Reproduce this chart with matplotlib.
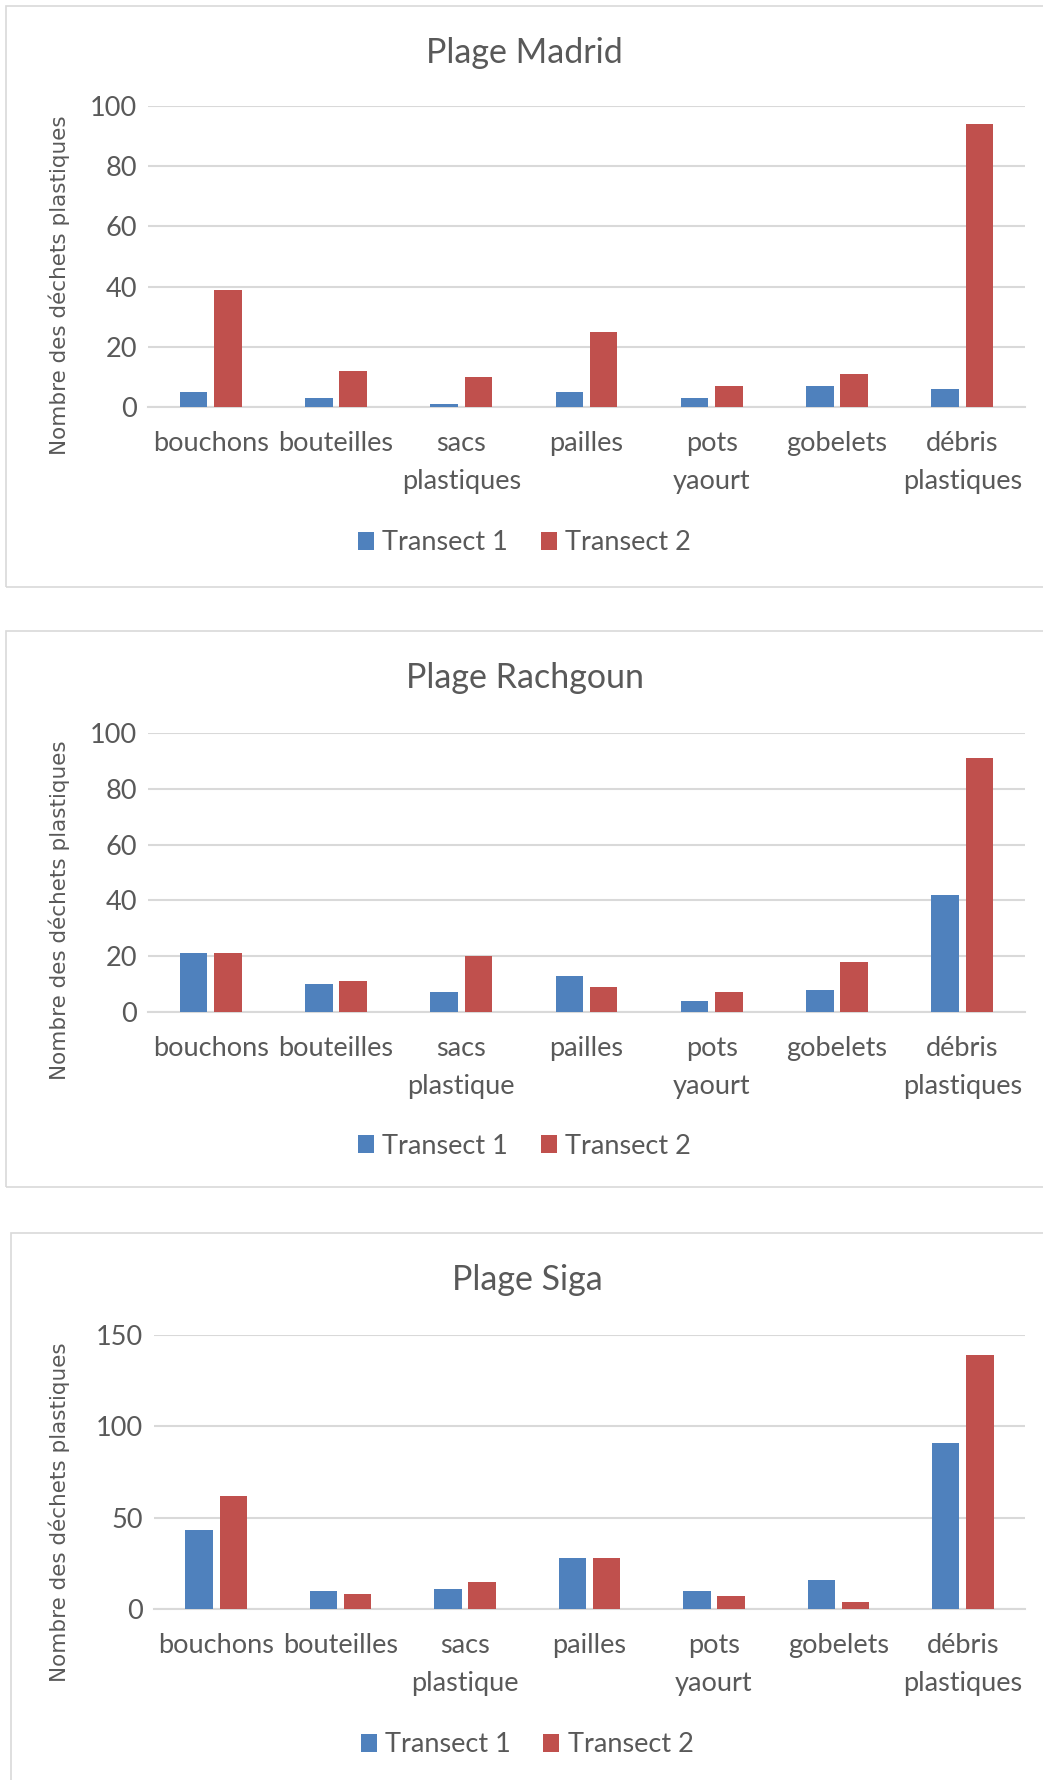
"""
Déchets plastiques par plage : Madrid, Rachgoun, Siga (Transect 1 vs Transect 2)
"""

import numpy as np
import matplotlib.pyplot as plt
from matplotlib.patches import Rectangle

plt.rcParams['font.family'] = ['Lato', 'DejaVu Sans']

# 1. Données
categories_madrid = ['bouchons', 'bouteilles', 'sacs\nplastiques', 'pailles',
                     'pots\nyaourt', 'gobelets', 'débris\nplastiques']
categories_autres = ['bouchons', 'bouteilles', 'sacs\nplastique', 'pailles',
                     'pots\nyaourt', 'gobelets', 'débris\nplastiques']

madrid_t1 = [5, 3, 1, 5, 3, 7, 6]
madrid_t2 = [39, 12, 10, 25, 7, 11, 94]

rachgoun_t1 = [21, 10, 7, 13, 4, 8, 42]
rachgoun_t2 = [21, 11, 20, 9, 7, 18, 91]

siga_t1 = [43, 10, 11, 28, 10, 16, 91]
siga_t2 = [62, 8, 15, 28, 7, 4, 139]

series_labels = ['Transect 1', 'Transect 2']

# 2. Configuration des panneaux (positions en pixels de la figure)
W, H = 1043, 1780
BLUE, RED = '#4F81BD', '#C0504D'
TXT = '#595959'
GRID = '#D9D9D9'

panels = [
    dict(title='Plage Madrid', cats=categories_madrid, t1=madrid_t1, t2=madrid_t2,
         ymax=100, step=20, ax_px=(148, 106, 1025, 407),
         frame=(6, 6, 1060, 587), title_y=53, legend_y=543, ylab_y=0.405),
    dict(title='Plage Rachgoun', cats=categories_autres, t1=rachgoun_t1, t2=rachgoun_t2,
         ymax=100, step=20, ax_px=(148, 733, 1025, 1012),
         frame=(6, 631, 1060, 1187), title_y=678, legend_y=1146, ylab_y=0.364),
    dict(title='Plage Siga', cats=categories_autres, t1=siga_t1, t2=siga_t2,
         ymax=150, step=50, ax_px=(154, 1335, 1025, 1609),
         frame=(11, 1233, 1060, 1800), title_y=1280, legend_y=1745, ylab_y=0.354),
]

fig = plt.figure(figsize=(W / 100, H / 100), dpi=100)

def fx(px):
    return px / W

def fy(py):
    return 1 - py / H

for p in panels:
    # cadre du graphique
    x0, y0, x1, y1 = p['frame']
    fig.patches.append(Rectangle((fx(x0), fy(y1)), fx(x1 - x0), (y1 - y0) / H,
                                 transform=fig.transFigure, fill=False,
                                 edgecolor=GRID, linewidth=1.2, zorder=0))
    cx = fx((x0 + min(x1, W)) / 2)

    l, t, r, b = p['ax_px']
    ax = fig.add_axes([fx(l), fy(b), fx(r - l), (b - t) / H])

    x = np.arange(len(p['cats']))
    bw = 0.22
    b1 = ax.bar(x - 0.137, p['t1'], width=bw, color=BLUE, zorder=3, label=series_labels[0])
    b2 = ax.bar(x + 0.137, p['t2'], width=bw, color=RED, zorder=3, label=series_labels[1])

    ax.set_xlim(-0.5, len(x) - 0.5)
    ax.set_ylim(0, p['ymax'])
    ax.set_yticks(np.arange(0, p['ymax'] + 1, p['step']))
    ax.yaxis.grid(True, color=GRID, linewidth=1.5, zorder=0)
    ax.set_axisbelow(True)
    for s in ['top', 'right', 'left']:
        ax.spines[s].set_visible(False)
    ax.spines['bottom'].set_color(GRID)
    ax.spines['bottom'].set_linewidth(1.5)

    ax.set_xticks(x)
    ax.set_xticklabels(p['cats'], linespacing=1.65)
    ax.tick_params(axis='x', length=0, pad=17, labelsize=19.5, labelcolor=TXT)
    ax.tick_params(axis='y', length=0, pad=8, labelsize=19.5, labelcolor=TXT)

    ax.set_ylabel('Nombre des déchets plastiques', fontfamily='DejaVu Sans',
                  fontsize=15.5, color=TXT)
    ax.yaxis.set_label_coords(fx(70 - l) / fx(r - l), p['ylab_y'])

    fig.text(cx, fy(p['title_y']), p['title'], ha='center', va='center',
             fontsize=24.5, color=TXT)

    fig.legend(handles=[b1, b2], loc='center', ncol=2,
               bbox_to_anchor=(cx, fy(p['legend_y'])), frameon=False,
               fontsize=19.5, labelcolor=TXT, handlelength=0.6, handleheight=0.6,
               handletextpad=0.3, columnspacing=1.2)

plt.savefig('out.png', dpi=100)
